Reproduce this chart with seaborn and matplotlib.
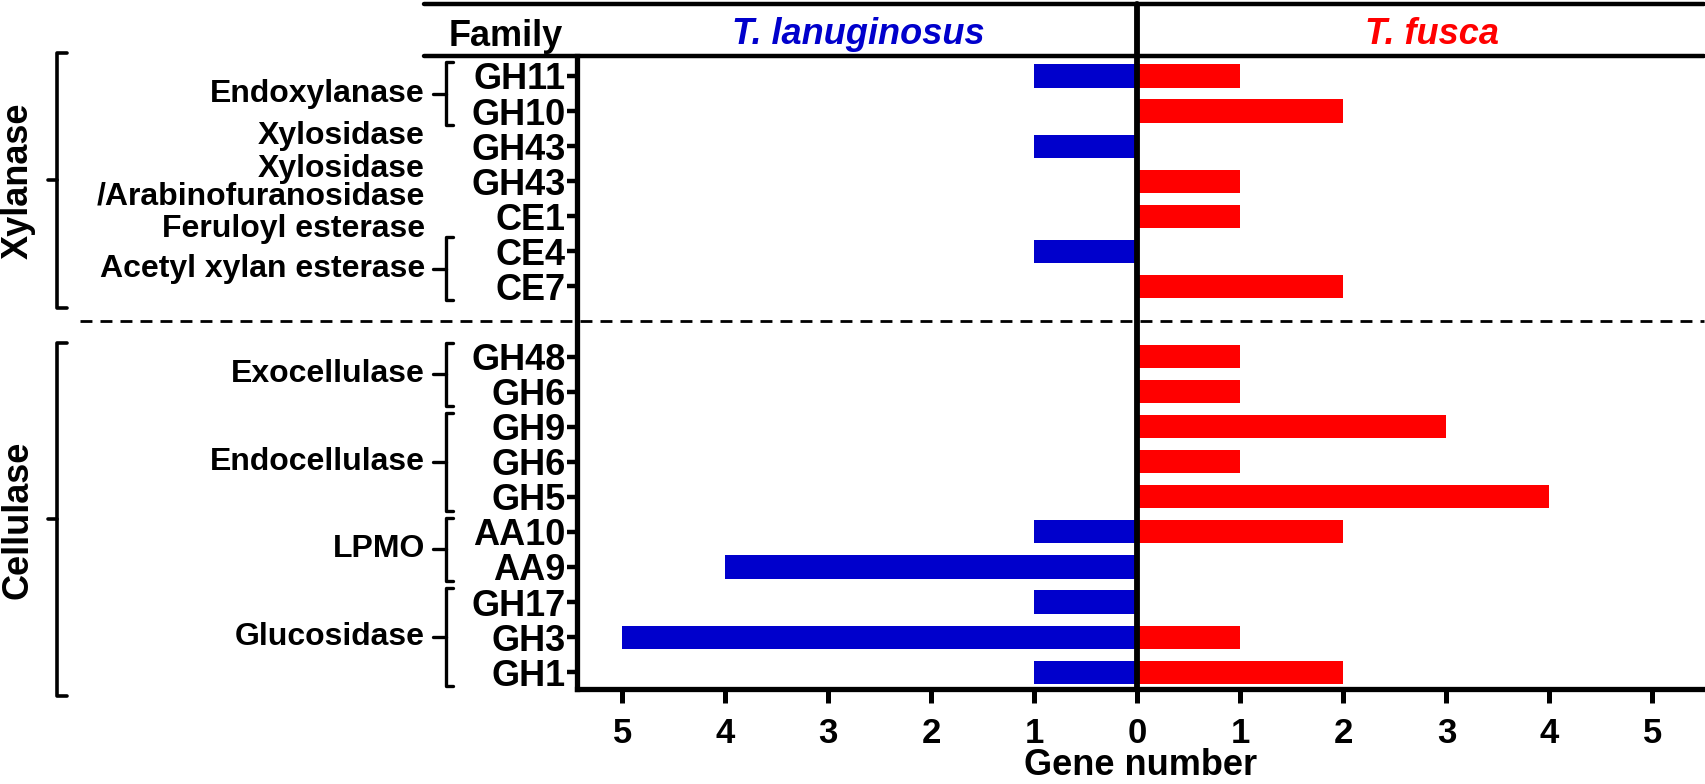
import matplotlib
matplotlib.use("Agg")
import matplotlib.pyplot as plt
import matplotlib.transforms as mtransforms
import seaborn as sns
import pandas as pd

# ---- data ----
families = ["GH11", "GH10", "GH43", "GH43", "CE1", "CE4", "CE7",
            "GH48", "GH6", "GH9", "GH6", "GH5", "AA10", "AA9", "GH17", "GH3", "GH1"]
t_lanuginosus = [1, 0, 1, 0, 0, 1, 0, 0, 0, 0, 0, 0, 1, 4, 1, 5, 1]
t_fusca = [1, 2, 0, 1, 1, 0, 2, 1, 1, 3, 1, 4, 2, 0, 0, 1, 2]
n_xylanase = 7  # first rows are xylanases, the rest cellulases

# enzyme labels with a bracket: (text, first row, last row)
enzymes = [
    ("Endoxylanase", 0, 1),
    ("Acetyl xylan esterase", 5, 6),
    ("Exocellulase", 7, 8),
    ("Endocellulase", 9, 11),
    ("LPMO", 12, 13),
    ("Glucosidase", 14, 16),
]
species = ["T. lanuginosus", "T. fusca"]
colors = {"T. lanuginosus": "#0000CC", "T. fusca": "#FF0000"}
x_ticks = [-5, -4, -3, -2, -1, 0, 1, 2, 3, 4, 5]


def slot(i):
    # leave an empty slot between xylanases and cellulases
    return i if i < n_xylanase else i + 1


keys = [f"{i}:{f}" for i, f in enumerate(families)]
order = keys[:n_xylanase] + ["sep"] + keys[n_xylanase:]
df = pd.DataFrame({
    "row": keys * 2,
    "count": [-v for v in t_lanuginosus] + t_fusca,
    "species": [species[0]] * len(keys) + [species[1]] * len(keys),
})

sns.set_theme(style="white")
plt.rcParams["font.family"] = ["Liberation Sans", "DejaVu Sans"]
plt.rcParams["font.weight"] = "bold"
for k in ["text.color", "axes.labelcolor", "xtick.color", "ytick.color"]:
    plt.rcParams[k] = "black"

W, H = 1706, 784
fig = plt.figure(figsize=(W / 100, H / 100), dpi=100)
ax = fig.add_axes([577 / W, (H - 689) / H, 1127 / W, 633 / H])

sns.barplot(data=df, x="count", y="row", hue="species", order=order,
            hue_order=species, palette=colors, dodge=False, width=0.66,
            saturation=1, errorbar=None, legend=False, linewidth=0, ax=ax)

ax.set_xlim(-5.44, 5.5)
ax.set_ylim(17.48, -0.57)
ax.set_xticks(x_ticks)
ax.set_xticklabels([str(abs(t)) for t in x_ticks], fontsize=25, fontweight="bold")
ax.set_yticks([slot(i) for i in range(len(families))])
ax.set_yticklabels(families, fontsize=26, fontweight="bold")
ax.set_ylabel("")
ax.set_xlabel("Gene number", fontsize=26, fontweight="bold", labelpad=-1)

sns.despine(ax=ax, top=True, right=True)
for side in ["left", "bottom"]:
    ax.spines[side].set_linewidth(3.8)
    ax.spines[side].set_color("black")
ax.tick_params(axis="x", length=10, width=3.6, pad=10, color="black", bottom=True)
ax.tick_params(axis="y", length=7, width=3.2, pad=1, color="black", left=True)

# zero line through the header, header rules, group separator
top_frac = (689 - 4) / 633
ax.axvline(0, ymin=0, ymax=top_frac, color="black", lw=4.2, clip_on=False, zorder=5)
x0 = (424 - 577) / 1127
ax.axhline(-0.57, xmin=x0, xmax=1, color="black", lw=3.2, clip_on=False)
ax.axhline(-2.05, xmin=x0, xmax=1, color="black", lw=3.2, clip_on=False)
ax.axhline(n_xylanase, xmin=(80 - 577) / 1127, xmax=1, color="black", lw=2,
           ls=(0, (4.3, 2.9)), clip_on=False)

# header texts
hdr = mtransforms.blended_transform_factory(ax.transData, fig.transFigure)
base = (H - 44) / H
ax.text(-2.71, base, species[0], transform=hdr, ha="center", va="baseline",
        fontsize=26, fontweight="bold", style="italic", color=colors[species[0]])
ax.text(2.86, base, species[1], transform=hdr, ha="center", va="baseline",
        fontsize=26, fontweight="bold", style="italic", color=colors[species[1]])
fig.text(563 / W, (H - 46) / H, "Family", ha="right", va="baseline",
         fontsize=26, fontweight="bold")

# enzyme labels and brackets left of the family names
lt = mtransforms.blended_transform_factory(fig.transFigure, ax.transData)


def bracket(x, top, bot, serif, tick, lw):
    mid = (top + bot) / 2
    ax.plot([x + serif, x, x, x + serif], [top, top, bot, bot], transform=lt,
            color="black", lw=lw, clip_on=False, solid_joinstyle="round")
    ax.plot([x, x - tick], [mid, mid], transform=lt, color="black", lw=lw, clip_on=False)
    return mid


for text, a, b in enzymes:
    top, bot = slot(a) - 0.4, slot(b) + 0.4
    mid = bracket(446 / W, top, bot, 7 / W, 13 / W, 2.4)
    ax.text(425 / W, mid, text, transform=lt, ha="right", va="center",
            fontsize=23, fontweight="bold")

ax.text(425 / W, 1.71, "Xylosidase", transform=lt, ha="right", va="center",
        fontsize=23, fontweight="bold")
ax.text(425 / W, 3.05, "Xylosidase\n/Arabinofuranosidase", transform=lt, ha="right",
        va="center", fontsize=23, fontweight="bold", linespacing=0.88, multialignment="right")
ax.text(425 / W, 4.35, "Feruloyl esterase", transform=lt, ha="right", va="center",
        fontsize=23, fontweight="bold")

# outer class brackets
for text, top, bot in [("Xylanase", -0.66, 6.62), ("Cellulase", 7.61, 17.68)]:
    mid = bracket(57 / W, top, bot, 10 / W, 9 / W, 2.6)
    ax.text(18 / W, mid, text, transform=lt, ha="center", va="center", rotation=90,
            fontsize=26, fontweight="bold")

fig.savefig("out.png", dpi=100)
plt.close(fig)
